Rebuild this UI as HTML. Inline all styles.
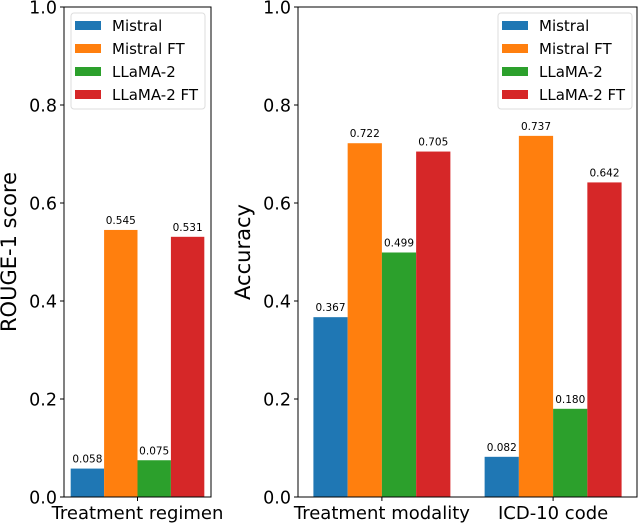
<!DOCTYPE html>
<html><head><meta charset="utf-8"><style>
body{margin:0;background:#fff}
svg text{font-family:"DejaVu Sans","Liberation Sans",sans-serif;fill:#000}
</style></head><body>
<svg id="c" width="640" height="524" xmlns="http://www.w3.org/2000/svg"></svg>
<script>
const series=["Mistral","Mistral FT","LLaMA-2","LLaMA-2 FT"];
const colors=["#1f77b4","#ff7f0e","#2ca02c","#d62728"];
const leftCats=["Treatment regimen"];
const leftVals=[[0.058],[0.545],[0.075],[0.531]];
const rightCats=["Treatment modality","ICD-10 code"];
const rightVals=[[0.367,0.082],[0.722,0.737],[0.499,0.180],[0.705,0.642]];
const yTicks=[0,0.2,0.4,0.6,0.8,1.0];
const NS="http://www.w3.org/2000/svg";
const svg=document.getElementById('c');
function mk(t,a,p){const e=document.createElementNS(NS,t);for(const k in a)e.setAttribute(k,a[k]);(p||svg).appendChild(e);return e;}
function panel(name,x0,x1,cats,vals,ylab,lx){
  const top=7,bot=497;
  const g=mk('g',{});
  
  
  const n=cats.length, span=(n-1)+0.8;
  const m=span*0.05, xmin=-0.4-m, xmax=n-1+0.4+m;
  const X=v=>x0+(v-xmin)/(xmax-xmin)*(x1-x0);
  const Y=v=>bot-v*(bot-top);
  vals.forEach((sv,s)=>sv.forEach((v,i)=>{
    const c=i-0.4+s*0.2;
    const r=mk('rect',{x:X(c),y:Y(v),width:X(c+0.2)-X(c),height:Y(0)-Y(v),fill:colors[s]},g);
    
    
    const t=mk('text',{x:X(c+0.1),y:Y(v)-6,'font-size':'10.5','text-anchor':'middle'},g);
    t.textContent=v.toFixed(3);
    
    
  }));
  const f=mk('rect',{x:x0,y:top,width:x1-x0,height:bot-top,fill:'none',stroke:'#000','stroke-width':1},g);
  
  yTicks.forEach(v=>{
    mk('line',{x1:x0-4,x2:x0,y1:Y(v),y2:Y(v),stroke:'#000'},g);
    const t=mk('text',{x:x0-7,y:Y(v)+6.5,'font-size':'17.5','text-anchor':'end'},g);
    t.textContent=v.toFixed(1);
    
  });
  cats.forEach((c,i)=>{
    mk('line',{x1:X(i),x2:X(i),y1:bot,y2:bot+4,stroke:'#000'},g);
    const t=mk('text',{x:X(i),y:bot+22,'font-size':'18','text-anchor':'middle'},g);
    t.textContent=c;
    
  });
  const yl=mk('text',{x:0,y:0,'font-size':'21','text-anchor':'middle',transform:`translate(${x0-48},${(top+bot)/2}) rotate(-90)`},g);
  yl.textContent=ylab;
  
  const lg=mk('g',{},g);
  
  mk('rect',{x:lx,y:13,width:134,height:96,rx:3,fill:'#fff',stroke:'#ddd'},lg);
  series.forEach((s,k)=>{
    const y=25+k*23;
    mk('rect',{x:lx+4,y:y-4,width:26,height:9,fill:colors[k]},lg);
    const t=mk('text',{x:lx+41,y:y+6,'font-size':'15'},lg);
    t.textContent=s;
    
  });
}
panel('left-panel',64,211,leftCats,leftVals,'ROUGE-1 score',71);
panel('right-panel',298,637,rightCats,rightVals,'Accuracy',498);
</script>
</body></html>
